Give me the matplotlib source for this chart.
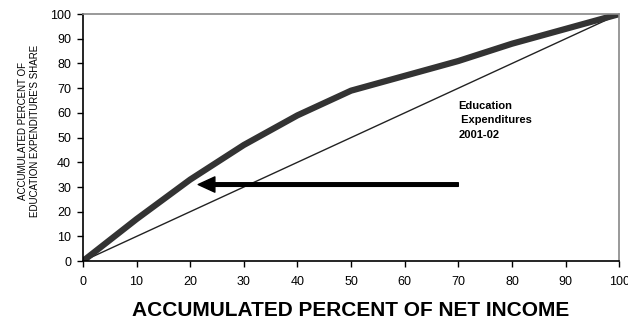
import matplotlib
matplotlib.use('Agg')
import matplotlib.pyplot as plt

plt.rcParams['font.family'] = ['Liberation Sans', 'DejaVu Sans']

# Data
income_pct = [0, 10, 20, 30, 40, 50, 60, 70, 80, 90, 100]
education_share = [0, 17, 33, 47, 59, 69, 75, 81, 88, 94, 100]
equality_line = [0, 10, 20, 30, 40, 50, 60, 70, 80, 90, 100]

fig = plt.figure(figsize=(6.28, 3.2), dpi=100)
ax = fig.add_axes([0.132, 0.184, 0.854, 0.772])

ax.plot(income_pct, equality_line, color='#222222', linewidth=1.0)
ax.plot(income_pct, education_share, color='#333333', linewidth=4.5, solid_capstyle='round')

# arrow pointing at the curve
ax.annotate('', xy=(21.5, 31), xytext=(70, 31),
            arrowprops=dict(facecolor='black', edgecolor='black', width=2.6,
                            headwidth=11, headlength=12, shrink=0))

ax.text(70, 65, 'Education\n Expenditures\n2001-02', fontsize=8, fontweight='bold',
        va='top', ha='left', linespacing=1.6)

ax.set_xlim(0, 100)
ax.set_ylim(0, 100)
ax.set_xticks(range(0, 101, 10))
ax.set_yticks(range(0, 101, 10))
ax.tick_params(direction='out', length=4, width=1, labelsize=9)
ax.tick_params(axis='x', pad=7)
ax.tick_params(axis='y', pad=4.5)

for side in ['left', 'bottom']:
    ax.spines[side].set_color('black')
    ax.spines[side].set_linewidth(1.2)
for side in ['top', 'right']:
    ax.spines[side].set_color('#888888')
    ax.spines[side].set_linewidth(1.2)

ax.set_xlabel('ACCUMULATED PERCENT OF NET INCOME', fontsize=15, fontweight='bold', labelpad=9)
ax.set_ylabel("ACCUMULATED PERCENT OF\nEDUCATION EXPENDITURE'S SHARE", fontsize=7)
ax.yaxis.set_label_coords(-0.080, 0.526)

fig.savefig('out.png', dpi=100)
